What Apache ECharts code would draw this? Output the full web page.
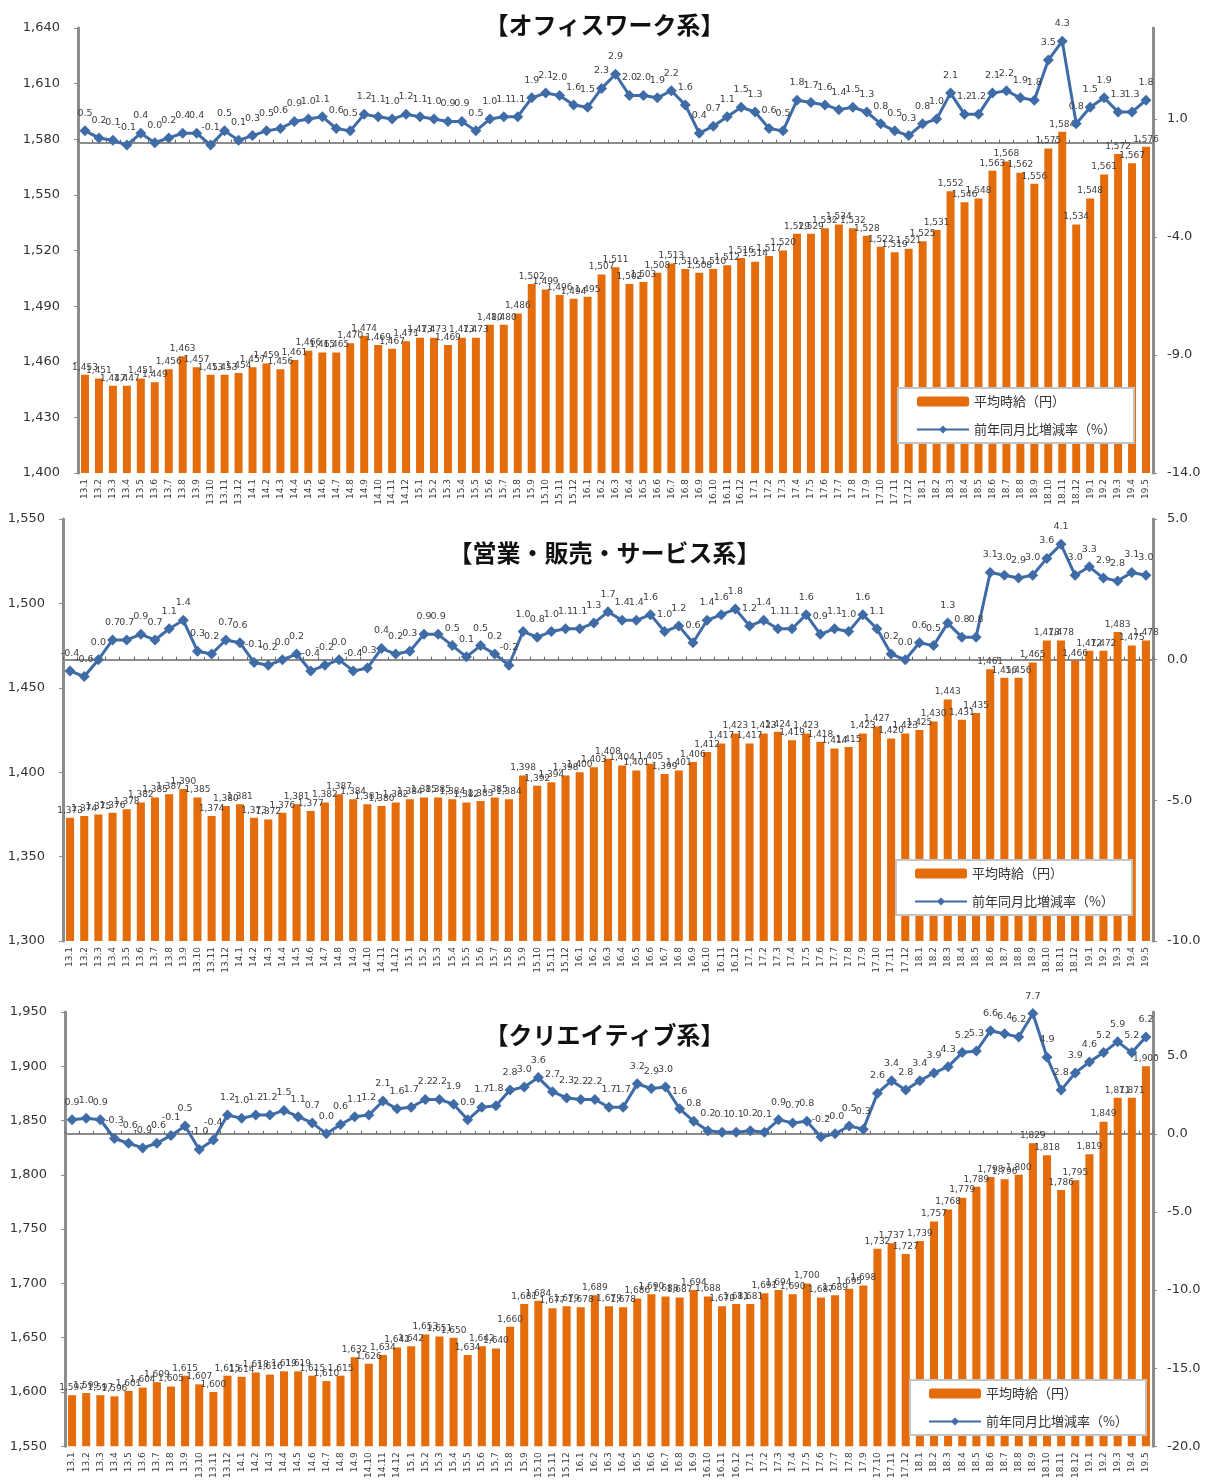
<!DOCTYPE html>
<html>
<head>
<meta charset="utf-8">
<title>平均時給</title>
<script src="https://cdn.jsdelivr.net/npm/echarts@6/dist/echarts.min.js"></script>
<style>
    html, body { margin: 0; padding: 0; background: #fff; }
    #main { width: 1209px; height: 1481px; }
</style>
</head>
<body>
<div id="main"></div>
<script>
// 月のラベル（13.1 ～ 19.5）
var months = [
    '13.1','13.2','13.3','13.4','13.5','13.6','13.7','13.8','13.9','13.10','13.11','13.12',
    '14.1','14.2','14.3','14.4','14.5','14.6','14.7','14.8','14.9','14.10','14.11','14.12',
    '15.1','15.2','15.3','15.4','15.5','15.6','15.7','15.8','15.9','15.10','15.11','15.12',
    '16.1','16.2','16.3','16.4','16.5','16.6','16.7','16.8','16.9','16.10','16.11','16.12',
    '17.1','17.2','17.3','17.4','17.5','17.6','17.7','17.8','17.9','17.10','17.11','17.12',
    '18.1','18.2','18.3','18.4','18.5','18.6','18.7','18.8','18.9','18.10','18.11','18.12',
    '19.1','19.2','19.3','19.4','19.5'
];

// オフィスワーク系
var officeWage = [
    1453,1451,1447,1447,1451,1449,1456,1463,1457,1453,1453,1454,
    1457,1459,1456,1461,1466,1465,1465,1470,1474,1469,1467,1471,
    1473,1473,1469,1473,1473,1480,1480,1486,1502,1499,1496,1494,
    1495,1507,1511,1502,1503,1508,1513,1510,1508,1510,1512,1516,
    1514,1517,1520,1529,1529,1532,1534,1532,1528,1522,1519,1521,
    1525,1531,1552,1546,1548,1563,1568,1562,1556,1575,1584,1534,
    1548,1561,1572,1567,1576
];
var officeRate = [
    0.5,0.2,0.1,-0.1,0.4,0.0,0.2,0.4,0.4,-0.1,0.5,0.1,
    0.3,0.5,0.6,0.9,1.0,1.1,0.6,0.5,1.2,1.1,1.0,1.2,
    1.1,1.0,0.9,0.9,0.5,1.0,1.1,1.1,1.9,2.1,2.0,1.6,
    1.5,2.3,2.9,2.0,2.0,1.9,2.2,1.6,0.4,0.7,1.1,1.5,
    1.3,0.6,0.5,1.8,1.7,1.6,1.4,1.5,1.3,0.8,0.5,0.3,
    0.8,1.0,2.1,1.2,1.2,2.1,2.2,1.9,1.8,3.5,4.3,0.8,
    1.5,1.9,1.3,1.3,1.8
];

// 営業・販売・サービス系
var salesWage = [
    1373,1374,1375,1376,1378,1382,1385,1387,1390,1385,1374,1380,
    1381,1373,1372,1376,1381,1377,1382,1387,1384,1381,1380,1382,
    1384,1385,1385,1384,1382,1383,1385,1384,1398,1392,1394,1398,
    1400,1403,1408,1404,1401,1405,1399,1401,1406,1412,1417,1423,
    1417,1423,1424,1419,1423,1418,1414,1415,1423,1427,1420,1423,
    1425,1430,1443,1431,1435,1461,1456,1456,1465,1478,1478,1466,
    1472,1472,1483,1475,1478
];
var salesRate = [
    -0.4,-0.6,0.0,0.7,0.7,0.9,0.7,1.1,1.4,0.3,0.2,0.7,
    0.6,-0.1,-0.2,0.0,0.2,-0.4,-0.2,0.0,-0.4,-0.3,0.4,0.2,
    0.3,0.9,0.9,0.5,0.1,0.5,0.2,-0.2,1.0,0.8,1.0,1.1,
    1.1,1.3,1.7,1.4,1.4,1.6,1.0,1.2,0.6,1.4,1.6,1.8,
    1.2,1.4,1.1,1.1,1.6,0.9,1.1,1.0,1.6,1.1,0.2,0.0,
    0.6,0.5,1.3,0.8,0.8,3.1,3.0,2.9,3.0,3.6,4.1,3.0,
    3.3,2.9,2.8,3.1,3.0
];

// クリエイティブ系
var creativeWage = [
    1597,1599,1597,1596,1601,1604,1609,1605,1615,1607,1600,1615,
    1614,1618,1616,1619,1619,1615,1610,1615,1632,1626,1634,1641,
    1642,1653,1651,1650,1634,1642,1640,1660,1681,1684,1677,1679,
    1678,1689,1679,1678,1686,1690,1688,1687,1694,1688,1679,1681,
    1681,1691,1694,1690,1700,1687,1689,1695,1698,1732,1737,1727,
    1739,1757,1768,1779,1789,1798,1796,1800,1829,1818,1786,1795,
    1819,1849,1871,1871,1900
];
var creativeRate = [
    0.9,1.0,0.9,-0.3,-0.6,-0.9,-0.6,-0.1,0.5,-1.0,-0.4,1.2,
    1.0,1.2,1.2,1.5,1.1,0.7,0.0,0.6,1.1,1.2,2.1,1.6,
    1.7,2.2,2.2,1.9,0.9,1.7,1.8,2.8,3.0,3.6,2.7,2.3,
    2.2,2.2,1.7,1.7,3.2,2.9,3.0,1.6,0.8,0.2,0.1,0.1,
    0.2,0.1,0.9,0.7,0.8,-0.2,-0.0,0.5,0.3,2.6,3.4,2.8,
    3.4,3.9,4.3,5.2,5.3,6.6,6.4,6.2,7.7,4.9,2.8,3.9,
    4.6,5.2,5.9,5.2,6.2
];

var titles = ['【オフィスワーク系】', '【営業・販売・サービス系】', '【クリエイティブ系】'];

var wageName = '平均時給（円）';
var rateName = '前年同月比増減率（%）';

var orange = '#e46c0a';
var blue = '#3f6ca6';
var axisGray = '#8c8c8c';
var font = 'DejaVu Sans, Verdana, sans-serif';
var jpFont = 'Noto Sans CJK JP, sans-serif';

// 各パネルの位置と軸の範囲
var panels = [
    { top: 28,   left: 78, height: 445, titleTop: 8,    legend: [898, 388],
      wage: officeWage,   rate: officeRate,   yl: [1400, 1640, 30], yr: [-14, 4.86, 5] },
    { top: 519,  left: 63, height: 422, titleTop: 536,  legend: [896, 860],
      wage: salesWage,    rate: salesRate,    yl: [1300, 1550, 50], yr: [-10, 5, 5] },
    { top: 1012, left: 65, height: 445, titleTop: 1018, legend: [910, 1380],
      wage: creativeWage, rate: creativeRate, yl: [1550, 1950, 50], yr: [-20, 7.8, 5] }
];

function rateText(v) {
    if (Object.is(v, -0)) return '-0.0';
    return v.toFixed(1);
}

var option = {
    animation: false,
    backgroundColor: '#fff',
    title: [],
    legend: [],
    grid: [],
    xAxis: [],
    yAxis: [],
    series: []
};

panels.forEach(function (p, i) {
    option.title.push({
        text: titles[i],
        left: 'center',
        top: p.titleTop,
        textStyle: { fontFamily: jpFont, fontSize: 24, fontWeight: 'bold', color: '#111' }
    });
    option.legend.push({
        data: [wageName, rateName],
        orient: 'vertical',
        left: p.legend[0],
        top: p.legend[1],
        backgroundColor: '#fff',
        borderColor: '#c4c4c4',
        borderWidth: 2,
        padding: [7, 18, 7, 18],
        itemGap: 15,
        itemWidth: 52,
        itemHeight: 10,
        selectedMode: false,
        textStyle: { fontFamily: jpFont, fontSize: 13, color: '#333' }
    });
    option.grid.push({
        left: p.left,
        right: 56,
        top: p.top,
        height: p.height,
        containLabel: false
    });
    option.xAxis.push({
        type: 'category',
        gridIndex: i,
        data: months,
        axisLine: { lineStyle: { color: axisGray, width: 2 } },
        axisTick: { show: true, inside: true, length: 3, lineStyle: { color: '#666' } },
        axisLabel: {
            rotate: 90,
            interval: 0,
            fontFamily: font,
            fontSize: 9,
            color: '#404040',
            margin: 6
        }
    });
    // 左軸：平均時給
    option.yAxis.push({
        type: 'value',
        gridIndex: i,
        position: 'left',
        min: p.yl[0],
        max: p.yl[1],
        interval: p.yl[2],
        splitLine: { show: false },
        axisLine: { show: true, lineStyle: { color: axisGray, width: 3 } },
        axisTick: { show: true, length: 4, lineStyle: { color: axisGray } },
        axisLabel: {
            fontFamily: font,
            fontSize: 13,
            color: '#333',
            margin: 18,
            formatter: function (v) { return echarts.format.addCommas(v); }
        }
    });
    // 右軸：前年同月比
    option.yAxis.push({
        type: 'value',
        gridIndex: i,
        position: 'right',
        min: p.yr[0],
        max: p.yr[1],
        interval: p.yr[2],
        splitLine: { show: false },
        axisLine: { show: true, lineStyle: { color: axisGray, width: 3 } },
        axisTick: { show: true, length: 4, lineStyle: { color: axisGray } },
        axisLabel: {
            fontFamily: font,
            fontSize: 13,
            color: '#333',
            margin: 14,
            showMaxLabel: i === 1,
            formatter: function (v) { return v.toFixed(1); }
        }
    });
    option.series.push({
        name: wageName,
        type: 'bar',
        xAxisIndex: i,
        yAxisIndex: i * 2,
        barWidth: '57%',
        data: p.wage,
        itemStyle: { color: orange },
        label: {
            show: true,
            position: 'top',
            distance: 3,
            fontFamily: font,
            fontSize: 9,
            color: '#404040',
            formatter: function (d) { return echarts.format.addCommas(d.value); }
        },
        z: 2
    });
    option.series.push({
        name: rateName,
        type: 'line',
        xAxisIndex: i,
        yAxisIndex: i * 2 + 1,
        data: p.rate,
        symbol: 'diamond',
        symbolSize: 11,
        lineStyle: { color: blue, width: 3 },
        itemStyle: { color: blue },
        label: {
            show: true,
            position: 'top',
            distance: 7,
            fontFamily: font,
            fontSize: 9.5,
            color: '#404040',
            formatter: function (d) { return rateText(d.value); }
        },
        z: 3
    });
});

var myChart = echarts.init(document.getElementById('main'));
myChart.setOption(option);
</script>
</body>
</html>
